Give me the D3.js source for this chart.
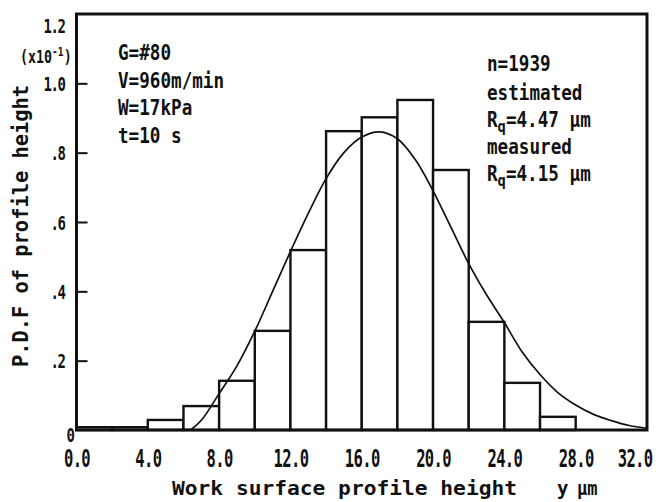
<!DOCTYPE html>
<html>
<head>
<meta charset="utf-8">
<script src="https://cdn.jsdelivr.net/npm/d3@7"></script>
<style>
  html, body { margin: 0; padding: 0; background: #fff; }
  svg { display: block; }
  text { font-family: "DejaVu Sans Mono", monospace; fill: #111; font-weight: bold; }
</style>
</head>
<body>
<svg id="chart" width="662" height="502"></svg>
<script>
// Histogram of work surface profile height: bins of 2 µm
const binStarts = [0, 2, 4, 6, 8, 10, 12, 14, 16, 18, 20, 22, 24, 26];
const binWidth = 2;
// Measured probability density (×10^-1 per µm)
const density = [0.008, 0.008, 0.029, 0.069, 0.142, 0.286, 0.519, 0.862, 0.902, 0.952, 0.750, 0.312, 0.136, 0.038];

// Estimated density curve, sampled along the height axis
const curveHeight = [6.4, 7, 8, 9, 10, 11, 12, 13, 14, 15, 16, 17, 18, 19, 20, 21, 22, 23, 24, 25, 26, 27, 28, 29, 30, 31, 32];
const curveDensity = [0, 0.028, 0.105, 0.185, 0.285, 0.40, 0.515, 0.625, 0.725, 0.80, 0.845, 0.86, 0.84, 0.78, 0.69, 0.585, 0.48, 0.39, 0.31, 0.225, 0.16, 0.108, 0.072, 0.045, 0.027, 0.013, 0.005];

// Axis ticks
const xTicks = [0, 4, 8, 12, 16, 20, 24, 28, 32];
const yTicks = [0, 0.2, 0.4, 0.6, 0.8, 1.0, 1.2];
const yTickLabels = ["0", ".2", ".4", ".6", ".8", "1.0", "1.2"];

// Annotations
const conditionLines = ["G=#80", "V=960m/min", "W=17kPa", "t=10 s"];
const sampleCount = "n=1939";
const rqEstimated = "4.47";
const rqMeasured = "4.15";

const svg = d3.select("#chart");
const ink = "#111";

const plot = { left: 76.5, right: 647, top: 14, bottom: 430 };
const x = d3.scaleLinear().domain([0, 32]).range([plot.left, plot.right]);
const y = d3.scaleLinear().domain([0, 1.2]).range([plot.bottom, plot.top]);

// Places a horizontally condensed text at (px, py)
function label(parent, px, py, str, size, sx, anchor) {
  const g = parent.append("g").attr("transform", `translate(${px},${py}) scale(${sx},1)`);
  const t = g.append("text")
    .attr("font-size", size)
    .attr("text-anchor", anchor || "start");
  if (str != null) t.text(str);
  return t;
}

// Bars
const bins = binStarts.map((s, i) => ({ x0: s, x1: s + binWidth, v: density[i] }));
svg.append("g")
  .selectAll("rect")
  .data(bins)
  .join("rect")
  .attr("x", d => x(d.x0))
  .attr("y", d => y(d.v))
  .attr("width", d => x(d.x1) - x(d.x0))
  .attr("height", d => y(0) - y(d.v))
  .attr("fill", "#fff")
  .attr("stroke", ink)
  .attr("stroke-width", 2.4);

// Estimated density curve
const curvePts = curveHeight.map((h, i) => [h, curveDensity[i]]);
svg.append("path")
  .datum(curvePts)
  .attr("fill", "none")
  .attr("stroke", ink)
  .attr("stroke-width", 1.7)
  .attr("d", d3.line().x(d => x(d[0])).y(d => y(d[1])).curve(d3.curveCatmullRom.alpha(0.5)));

// Frame
svg.append("rect")
  .attr("x", plot.left)
  .attr("y", plot.top)
  .attr("width", plot.right - plot.left)
  .attr("height", plot.bottom - plot.top)
  .attr("fill", "none")
  .attr("stroke", ink)
  .attr("stroke-width", 3);

// X axis: labels only
const xAxisG = svg.append("g")
  .attr("transform", `translate(0,${y(0)})`)
  .call(d3.axisBottom(x).tickValues(xTicks).tickFormat(d3.format(".1f")).tickSize(0));
xAxisG.select(".domain").remove();
xAxisG.selectAll(".tick text")
  .attr("y", null).attr("dy", null)
  .attr("font-family", "DejaVu Sans Mono, monospace")
  .attr("font-weight", "bold")
  .attr("font-size", 25)
  .attr("letter-spacing", -1)
  .attr("fill", ink)
  .each(function (d, i, nodes) {
    const last = i === nodes.length - 1;
    d3.select(this)
      .attr("text-anchor", last ? "end" : "middle")
      .attr("transform", `translate(${last ? 5 : 0},37) scale(0.62,1)`);
  });

// Y axis: inward ticks with labels on the left
const yAxisG = svg.append("g")
  .attr("transform", `translate(${plot.left},0)`)
  .call(d3.axisLeft(y).tickValues(yTicks)
    .tickFormat((d, i) => yTickLabels[i])
    .tickSizeInner(-11).tickSizeOuter(0).tickPadding(12));
yAxisG.select(".domain").remove();
yAxisG.selectAll(".tick line")
  .attr("stroke", ink)
  .attr("stroke-width", 2)
  .attr("display", d => (d === 0 || d === 1.2) ? "none" : null);
yAxisG.selectAll(".tick text")
  .attr("x", null).attr("dy", null)
  .attr("font-family", "DejaVu Sans Mono, monospace")
  .attr("font-weight", "bold")
  .attr("font-size", 20)
  .attr("letter-spacing", -2)
  .attr("fill", ink)
  .attr("transform", d => {
    if (d === 0) return "translate(-3,11) scale(0.7,1)";
    if (d === 1.2) return "translate(-12,18) scale(0.7,1)";
    return "translate(-12,7) scale(0.7,1)";
  });

// Exponent of the y scale
const expo = label(svg, 20, 63, null, 18, 0.74, "start");
expo.append("tspan").text("(x10");
expo.append("tspan").attr("dy", -7).attr("font-size", 13).text("-1");
expo.append("tspan").attr("dy", 7).text(")");

// Axis titles
svg.append("text")
  .attr("transform", "translate(28,226) rotate(-90)")
  .attr("text-anchor", "middle")
  .attr("font-size", 21)
  .attr("textLength", 282)
  .attr("lengthAdjust", "spacingAndGlyphs")
  .text("P.D.F  of  profile height");

svg.append("text")
  .attr("x", 172).attr("y", 495)
  .attr("font-size", 20)
  .attr("textLength", 345)
  .attr("lengthAdjust", "spacingAndGlyphs")
  .text("Work surface profile height");
label(svg, 557, 495, "y", 20, 0.95, "start");
label(svg, 577, 495, "µm", 20, 0.85, "start");

// Grinding conditions
conditionLines.forEach((s, i) => label(svg, 118, 60 + i * 27.7, s, 20.5, 0.86, "start"));

// Sample size and roughness values
const rx = 487;
label(svg, rx, 71, sampleCount, 20.5, 0.86, "start");
label(svg, rx, 100, "estimated", 20.5, 0.86, "start");
function rqLine(py, val) {
  const t = label(svg, rx, py, null, 20.5, 0.86, "start");
  t.append("tspan").text("R");
  t.append("tspan").attr("dy", 5).attr("font-size", 16).text("q");
  t.append("tspan").attr("dy", -5).text("=" + val + " µm");
}
rqLine(127, rqEstimated);
label(svg, rx, 154, "measured", 20.5, 0.86, "start");
rqLine(181, rqMeasured);
</script>
</body>
</html>
